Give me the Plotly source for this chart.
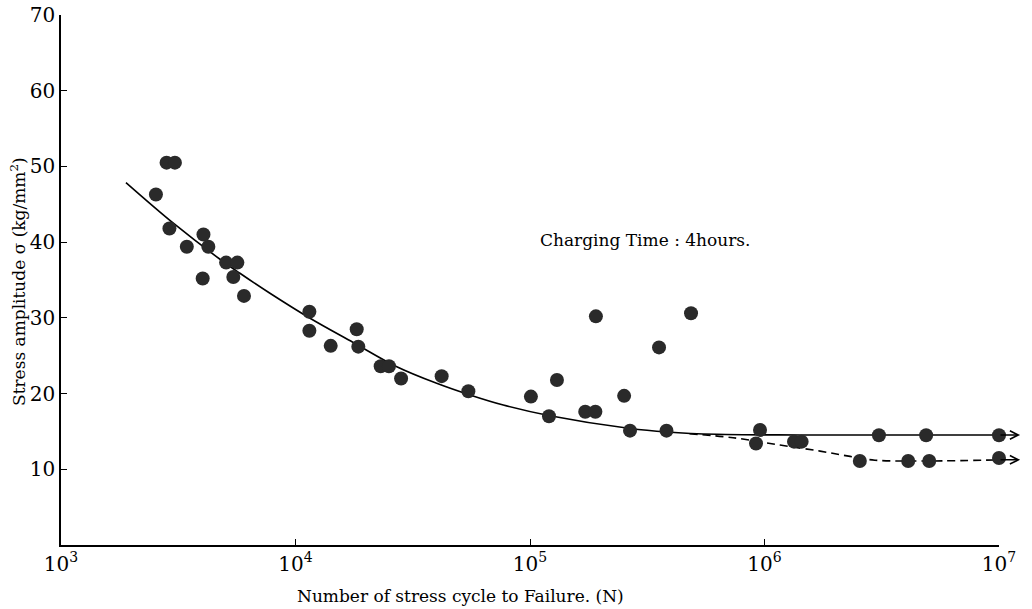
import numpy as np
import plotly.graph_objects as go

# ---- data ----
cycles = [2540, 2820, 3060, 2900, 3440, 4050, 4250, 4020, 5060, 5650, 5430, 6030,
          11460, 11460, 14130, 18240, 18530, 23080, 25040, 28200, 42000, 54600,
          100900, 120500, 130300, 172000, 190000, 191000, 252000, 267000, 355000,
          382000, 486000, 957000, 920000, 1336000, 1440000, 3076000, 4890000,
          10000000, 2550000, 4100000, 5040000, 10000000]
stress = [46.3, 50.5, 50.5, 41.8, 39.4, 41.0, 39.4, 35.2, 37.3, 37.3, 35.4, 32.9,
          30.8, 28.3, 26.3, 28.5, 26.2, 23.6, 23.6, 22.0, 22.3, 20.3,
          19.6, 17.0, 21.8, 17.6, 17.6, 30.2, 19.7, 15.1, 26.1,
          15.1, 30.6, 15.2, 13.4, 13.65, 13.65, 14.5, 14.5,
          14.5, 11.1, 11.1, 11.1, 11.5]

# solid S-N curve (log10 N, stress)
curve_logn = [3.277, 3.479, 3.678, 3.763, 3.891, 4.062, 4.246, 4.432, 4.602, 4.744,
              4.886, 5.085, 5.427, 5.584, 5.797, 6.151, 7.0]
curve_s = [47.86, 42.50, 37.74, 35.89, 33.25, 29.95, 26.75, 23.55, 21.36, 19.82,
           18.49, 17.08, 15.39, 14.93, 14.62, 14.53, 14.53]

# dashed lower branch
dash_logn = [5.68, 5.866, 6.066, 6.237, 6.365, 6.471, 6.706, 7.0]
dash_s = [14.7, 14.17, 13.2, 12.4, 11.7, 11.2, 11.1, 11.25]

x_ticks = [1e3, 1e4, 1e5, 1e6, 1e7]
x_ticktext = ["10<sup>3</sup>", "10<sup>4</sup>", "10<sup>5</sup>", "10<sup>6</sup>", "10<sup>7</sup>"]
y_ticks = [10, 20, 30, 40, 50, 60, 70]

FONT = "DejaVu Serif"

fig = go.Figure()
fig.add_trace(go.Scatter(
    x=[10 ** v for v in curve_logn], y=curve_s, mode="lines",
    line=dict(color="black", width=1.6, shape="spline", smoothing=1.0),
    hoverinfo="skip"))
fig.add_trace(go.Scatter(
    x=[10 ** v for v in dash_logn], y=dash_s, mode="lines",
    line=dict(color="black", width=1.6, dash="8px,5px", shape="spline", smoothing=1.0),
    hoverinfo="skip"))
fig.add_trace(go.Scatter(
    x=cycles, y=stress, mode="markers",
    marker=dict(size=14, color="#2a2a2a", line=dict(width=0)),
    cliponaxis=False))

annotations = []
# arrow heads at the end of both curves
for yv in (curve_s[-1], dash_s[-1]):
    annotations.append(dict(
        x=7.09, y=yv, xref="x", yref="y",
        ax=7.0, ay=yv, axref="x", ayref="y",
        showarrow=True, arrowhead=5, arrowsize=1.1, arrowwidth=1.5,
        arrowcolor="black", text=""))

annotations.append(dict(
    text="Charging Time : 4hours.", x=(645 - 61) / 938, y=(545 - 240) / 530,
    xref="paper", yref="paper", showarrow=False, xanchor="center", yanchor="middle",
    font=dict(family=FONT, size=17, color="black")))
annotations.append(dict(
    text="Stress amplitude σ (kg/mm<sup>2</sup>)", x=(18 - 61) / 938, y=(545 - 282) / 530,
    xref="paper", yref="paper", showarrow=False, textangle=-90,
    xanchor="center", yanchor="middle",
    font=dict(family=FONT, size=17, color="black")))
annotations.append(dict(
    text="Number of stress cycle to Failure. (N)", x=(460 - 61) / 938, y=(545 - 596) / 530,
    xref="paper", yref="paper", showarrow=False, xanchor="center", yanchor="middle",
    font=dict(family=FONT, size=17, color="black")))

fig.update_layout(
    width=1032, height=609,
    margin=dict(l=61, r=33, t=15, b=64),
    paper_bgcolor="white", plot_bgcolor="white",
    showlegend=False,
    annotations=annotations,
    xaxis=dict(type="log", range=[3, 7], tickvals=x_ticks, ticktext=x_ticktext,
               automargin=False,
               showline=True, linecolor="black", linewidth=1.5, mirror=False,
               ticks="inside", ticklen=6, tickwidth=1.2, tickcolor="black",
               showgrid=False, zeroline=False,
               tickfont=dict(family=FONT, size=20, color="black")),
    yaxis=dict(range=[0, 70], tickvals=y_ticks, automargin=False,
               showline=True, linecolor="black", linewidth=1.5, mirror=False,
               ticks="inside", ticklen=6, tickwidth=1.2, tickcolor="black",
               showgrid=False, zeroline=False, ticklabelstandoff=0,
               tickfont=dict(family=FONT, size=20, color="black")),
)

fig.write_html("out.html", config={"displayModeBar": False},
               post_script="document.body.style.margin='0';document.body.style.overflow='hidden';")
